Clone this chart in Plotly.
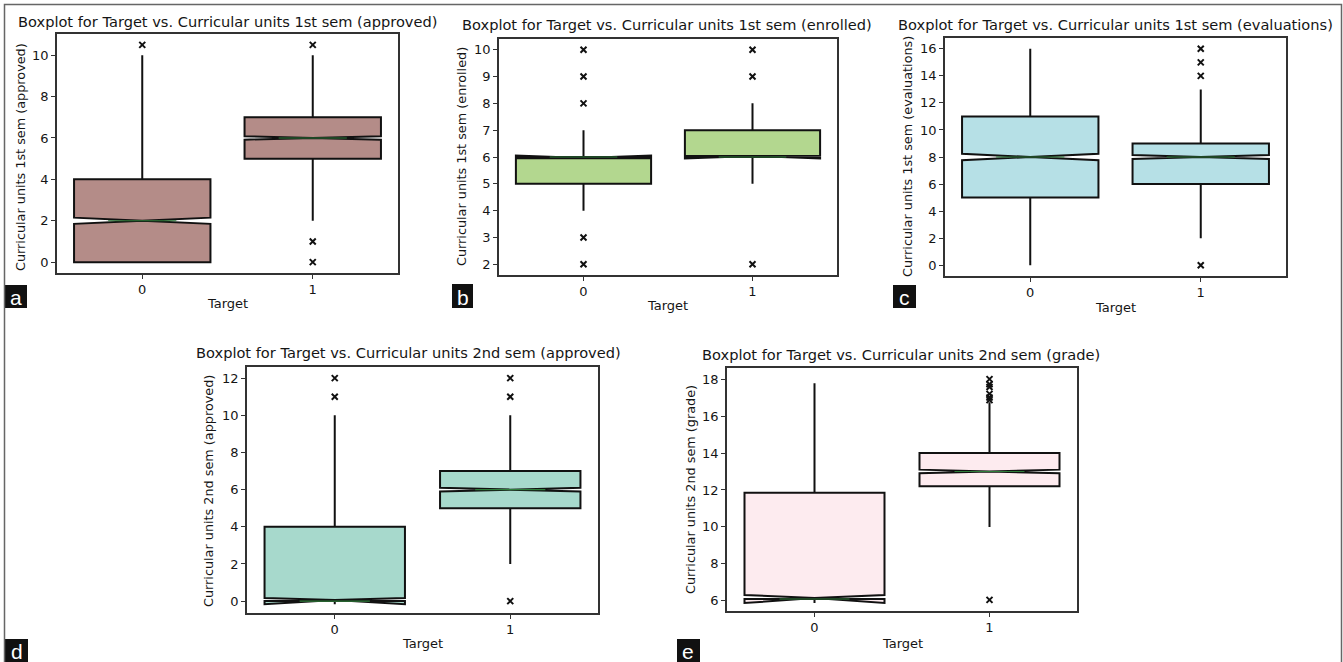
import plotly.graph_objects as go

W, H = 1343, 662

# ---------------- data ----------------
targets = [0, 1]
tick_labels = ["0", "1"]

# a: Curricular units 1st sem (approved)
a_q1 = [0, 5]
a_med = [2, 6]
a_q3 = [4, 7]
a_lo = [0, 2]
a_hi = [10, 10]
a_notch = [0.15, 0.08]
a_out0 = [10.5]
a_out1 = [10.5, 1, 0]

# b: Curricular units 1st sem (enrolled)
b_q1 = [5, 6]
b_med = [6, 6]
b_q3 = [6, 7]
b_lo = [4, 5]
b_hi = [7, 8]
b_notch = [0.05, 0.05]
b_out0 = [10, 9, 8, 3, 2]
b_out1 = [10, 9, 2]

# c: Curricular units 1st sem (evaluations)
c_q1 = [5, 6]
c_med = [8, 8]
c_q3 = [11, 9]
c_lo = [0, 2]
c_hi = [16, 13]
c_notch = [0.24, 0.14]
c_out0 = []
c_out1 = [16, 15, 14, 0]

# d: Curricular units 2nd sem (approved)
d_q1 = [0, 5]
d_med = [0, 6]
d_q3 = [4, 7]
d_lo = [0, 2]
d_hi = [10, 10]
d_notch = [0.17, 0.1]
d_out0 = [12, 11]
d_out1 = [12, 11, 0]

# e: Curricular units 2nd sem (grade)
e_q1 = [6.1, 12.2]
e_med = [6.1, 13.0]
e_q3 = [11.85, 14.0]
e_lo = [6.1, 10.0]
e_hi = [17.78, 16.75]
e_notch = [0.22, 0.1]
e_out0 = []
e_out1 = [18.0, 17.72, 17.57, 17.2, 17.0, 16.86, 6.05]

panels = [
    dict(key="a", title="Boxplot for Target vs. Curricular units 1st sem (approved)",
         ylabel="Curricular units 1st sem (approved)", color="#b48c88",
         q1=a_q1, med=a_med, q3=a_q3, lo=a_lo, hi=a_hi, ns=a_notch, out=[a_out0, a_out1],
         yrange=[-0.525, 11.025], dtick=2,
         px=(57, 398), py=(34, 273), tpos=(227, 21), ylpos=(21, 157), xlpos=(227, 303),
         lab=(5, 27, 285, 308)),
    dict(key="b", title="Boxplot for Target vs. Curricular units 1st sem (enrolled)",
         ylabel="Curricular units 1st sem (enrolled)", color="#b3d78f",
         q1=b_q1, med=b_med, q3=b_q3, lo=b_lo, hi=b_hi, ns=b_notch, out=[b_out0, b_out1],
         yrange=[1.6, 10.4], dtick=1,
         px=(499, 837), py=(39, 275), tpos=(667, 25), ylpos=(462, 157), xlpos=(667, 305),
         lab=(452, 473, 284, 308)),
    dict(key="c", title="Boxplot for Target vs. Curricular units 1st sem (evaluations)",
         ylabel="Curricular units 1st sem (evaluations)", color="#b6e0e6",
         q1=c_q1, med=c_med, q3=c_q3, lo=c_lo, hi=c_hi, ns=c_notch, out=[c_out0, c_out1],
         yrange=[-0.8, 16.8], dtick=2,
         px=(945, 1286), py=(38, 276), tpos=(1115, 25), ylpos=(908, 157), xlpos=(1115, 307),
         lab=(893, 916, 285, 308)),
    dict(key="d", title="Boxplot for Target vs. Curricular units 2nd sem (approved)",
         ylabel="Curricular units 2nd sem (approved)", color="#a7d9cc",
         q1=d_q1, med=d_med, q3=d_q3, lo=d_lo, hi=d_hi, ns=d_notch, out=[d_out0, d_out1],
         yrange=[-0.64, 12.6], dtick=2,
         px=(247, 598), py=(367, 613), tpos=(408, 353), ylpos=(208, 491), xlpos=(422, 643),
         lab=(5, 28, 639, 662)),
    dict(key="e", title="Boxplot for Target vs. Curricular units 2nd sem (grade)",
         ylabel="Curricular units 2nd sem (grade)", color="#fdebef",
         q1=e_q1, med=e_med, q3=e_q3, lo=e_lo, hi=e_hi, ns=e_notch, out=[e_out0, e_out1],
         yrange=[5.45, 18.6], dtick=2,
         px=(727, 1077), py=(368, 611), tpos=(901, 354), ylpos=(690, 490), xlpos=(902, 643),
         lab=(677, 700, 639, 662)),
]

FONT = "DejaVu Sans"
TXT = "#151515"

def fx(p):
    return p / W

def fy(p):
    return 1 - p / H

fig = go.Figure()
annotations = []
shapes = []
layout = {}

for i, p in enumerate(panels, start=1):
    xa = "x" if i == 1 else f"x{i}"
    ya = "y" if i == 1 else f"y{i}"
    xkey = "xaxis" if i == 1 else f"xaxis{i}"
    ykey = "yaxis" if i == 1 else f"yaxis{i}"

    fig.add_trace(go.Box(
        x=targets, q1=p["q1"], median=p["med"], q3=p["q3"],
        lowerfence=p["lo"], upperfence=p["hi"], notchspan=p["ns"],
        notched=True, notchwidth=0.5, width=0.8, whiskerwidth=0,
        boxpoints=False, fillcolor=p["color"],
        line=dict(color="#111111", width=2),
        xaxis=xa, yaxis=ya, showlegend=False, hoverinfo="skip",
    ))
    # green median segments (matplotlib style, half box width)
    mx, my = [], []
    for t, m in zip(targets, p["med"]):
        mx += [t - 0.2, t + 0.2, None]
        my += [m, m, None]
    fig.add_trace(go.Scatter(x=mx, y=my, mode="lines",
                             line=dict(color="#2f7d3a", width=1.2),
                             xaxis=xa, yaxis=ya, showlegend=False, hoverinfo="skip"))
    # outliers
    ox, oy = [], []
    for t, outs in zip(targets, p["out"]):
        ox += [t] * len(outs)
        oy += outs
    fig.add_trace(go.Scatter(x=ox, y=oy, mode="markers",
                             marker=dict(symbol="x-thin", size=6,
                                         line=dict(color="#111111", width=2)),
                             xaxis=xa, yaxis=ya, showlegend=False, hoverinfo="skip"))

    axis_common = dict(showline=True, mirror=True, linecolor="#333333", linewidth=1.5,
                       ticks="outside", ticklen=4, tickwidth=1.2, tickcolor="#333333",
                       showgrid=False, zeroline=False,
                       tickfont=dict(family=FONT, size=13, color=TXT))
    layout[xkey] = dict(domain=[fx(p["px"][0]), fx(p["px"][1])], anchor=ya,
                        range=[-0.5, 1.5], tickmode="array", tickvals=targets,
                        ticktext=tick_labels, **axis_common)
    layout[ykey] = dict(domain=[fy(p["py"][1]), fy(p["py"][0])], anchor=xa,
                        range=p["yrange"], dtick=p["dtick"], **axis_common)

    annotations.append(dict(text=p["title"], x=fx(p["tpos"][0]), y=fy(p["tpos"][1]),
                            xref="paper", yref="paper", showarrow=False,
                            xanchor="center", yanchor="middle",
                            font=dict(family=FONT, size=14.6, color=TXT)))
    annotations.append(dict(text=p["ylabel"], x=fx(p["ylpos"][0]), y=fy(p["ylpos"][1]),
                            xref="paper", yref="paper", showarrow=False, textangle=-90,
                            xanchor="center", yanchor="middle",
                            font=dict(family=FONT, size=12.8, color=TXT)))
    annotations.append(dict(text="Target", x=fx(p["xlpos"][0]), y=fy(p["xlpos"][1]),
                            xref="paper", yref="paper", showarrow=False,
                            xanchor="center", yanchor="middle",
                            font=dict(family=FONT, size=13, color=TXT)))
    l, r, t, b = p["lab"]
    shapes.append(dict(type="rect", xref="paper", yref="paper",
                       x0=fx(l), x1=fx(r), y0=fy(b), y1=fy(t),
                       fillcolor="#111111", line=dict(width=0)))
    annotations.append(dict(text=p["key"], x=fx((l + r) / 2), y=fy((t + b) / 2 + 1),
                            xref="paper", yref="paper", showarrow=False,
                            xanchor="center", yanchor="middle",
                            font=dict(family="Liberation Sans", size=21, color="white")))

# outer frame
shapes.append(dict(type="rect", xref="paper", yref="paper",
                   x0=fx(4.5), x1=fx(1341.5), y0=-0.01, y1=fy(4.5),
                   line=dict(color="#666666", width=1.5), fillcolor="rgba(0,0,0,0)"))

fig.update_layout(
    width=W, height=H, margin=dict(l=0, r=0, t=0, b=0),
    paper_bgcolor="white", plot_bgcolor="white",
    annotations=annotations, shapes=shapes, showlegend=False,
    **layout,
)

fig.write_html("out.html")
